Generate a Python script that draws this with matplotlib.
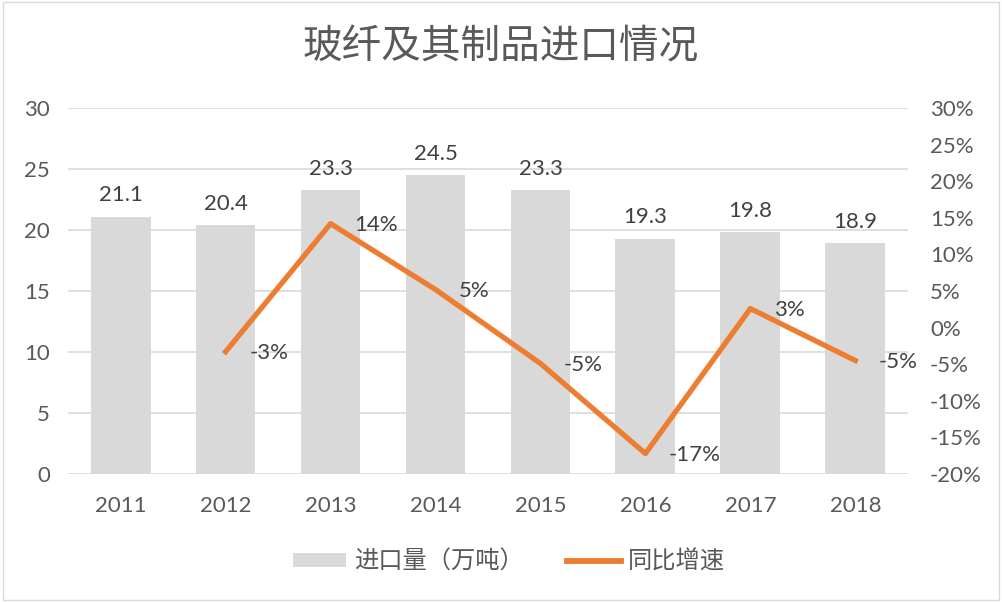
import matplotlib.pyplot as plt
from matplotlib.patches import Patch, Rectangle
from matplotlib.lines import Line2D
from matplotlib.ticker import FuncFormatter

plt.rcParams['font.family'] = ['Lato', 'Noto Sans CJK SC', 'DejaVu Sans']

years = ['2011', '2012', '2013', '2014', '2015', '2016', '2017', '2018']
volume = [21.1, 20.4, 23.3, 24.5, 23.3, 19.3, 19.8, 18.9]
growth_years = ['2012', '2013', '2014', '2015', '2016', '2017', '2018']
growth = [-3.3, 14.2, 5.2, -4.9, -17.2, 2.6, -4.5]
growth_labels = ['-3%', '14%', '5%', '-5%', '-17%', '3%', '-5%']

txt = '#595959'
bar_c = '#d9d9d9'
line_c = '#ed7d31'

fig = plt.figure(figsize=(10.02, 6.02), dpi=100)
ax = fig.add_axes([0.068, 0.2126, 0.838, 0.608])
ax2 = ax.twinx()

x = list(range(len(years)))
ax.bar(x, volume, width=0.57, color=bar_c, zorder=2)
for xi, v in zip(x, volume):
    ax.annotate(f'{v:.1f}', (xi, v), xytext=(0, 8), textcoords='offset points',
                ha='center', va='bottom', fontsize=16, color='#404040')

ax.set_xlim(-0.5, len(years) - 0.5)
ax.set_ylim(0, 30)
ax.set_yticks(range(0, 31, 5))
ax.grid(axis='y', color='#d9d9d9', linewidth=1.2, zorder=0)
ax.set_axisbelow(True)
ax.set_xticks(x)
ax.set_xticklabels(years)

gx = [years.index(y) for y in growth_years]
ax2.plot(gx, growth, color=line_c, linewidth=3.8, zorder=3)
for xi, g, lab in zip(gx, growth, growth_labels):
    ax2.annotate(lab, (xi, g), xytext=(17, -1), textcoords='offset points',
                 ha='left', va='center', fontsize=16, color='#404040')
ax2.set_ylim(-20, 30)
ax2.set_yticks(range(-20, 31, 5))
ax2.yaxis.set_major_formatter(FuncFormatter(lambda v, p: f'{v:.0f}%'))

for a in (ax, ax2):
    for s in a.spines.values():
        s.set_visible(False)
    a.tick_params(length=0, labelsize=16, labelcolor=txt)
ax.tick_params(axis='y', pad=13)
ax.tick_params(axis='x', pad=16)
ax2.tick_params(axis='y', pad=16)

fig.text(0.5, 0.922, '玻纤及其制品进口情况', ha='center', va='center',
         fontsize=28.5, color=txt)

handles = [Patch(facecolor=bar_c, edgecolor='none'),
           Line2D([0], [0], color=line_c, linewidth=4.2)]
fig.legend(handles, ['进口量（万吨）', '同比增速'], loc='center',
           bbox_to_anchor=(0.508, 0.068), ncol=2, frameon=False, fontsize=17.5,
           labelcolor=txt, handlelength=2.2, handleheight=0.5,
           columnspacing=1.8, handletextpad=0.3)

fig.patches.append(Rectangle((0.003, 0.003), 0.994, 0.994, transform=fig.transFigure,
                             fill=False, edgecolor='#d9d9d9', linewidth=1))

fig.savefig('out.png', dpi=100)
